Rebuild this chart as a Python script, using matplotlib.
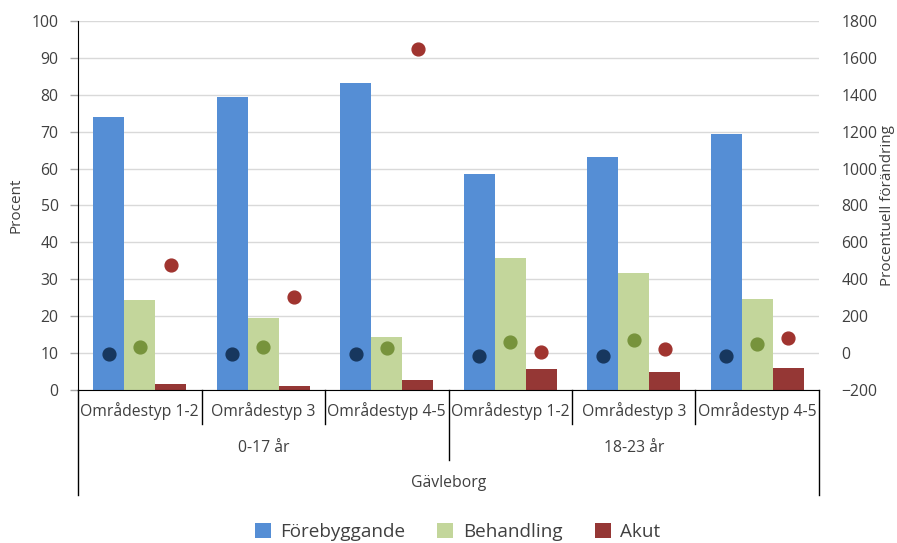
import numpy as np
import matplotlib.pyplot as plt

plt.rcParams['font.family'] = ['Open Sans', 'DejaVu Sans']

omraden = ['Områdestyp 1-2', 'Områdestyp 3', 'Områdestyp 4-5',
           'Områdestyp 1-2', 'Områdestyp 3', 'Områdestyp 4-5']
aldrar = ['0-17 år', '18-23 år']
region = 'Gävleborg'

# andel (procent), staplar
forebyggande = [74.1, 79.3, 83.1, 58.5, 63.2, 69.5]
behandling = [24.4, 19.5, 14.4, 35.8, 31.8, 24.7]
akut = [1.6, 1.1, 2.6, 5.6, 5.0, 5.9]

# procentuell förändring, punkter
forebyggande_pf = [-7, -7, -7, -17, -17, -16]
behandling_pf = [31, 31, 26, 60, 71, 48]
akut_pf = [477, 304, 1651, 6, 21, 80]

c_blue, c_green, c_red = '#558ED5', '#C3D69B', '#953735'
d_blue, d_green, d_red = '#17375E', '#77933C', '#A0342F'

fig = plt.figure(figsize=(8.97, 5.43), dpi=100)
ax = fig.add_axes([0.087, 0.2818, 0.826, 0.6795])
ax2 = ax.twinx()

x = np.arange(len(omraden))
w = 0.25
ax.bar(x - w, forebyggande, w, color=c_blue, label='Förebyggande', zorder=2)
ax.bar(x, behandling, w, color=c_green, label='Behandling', zorder=2)
ax.bar(x + w, akut, w, color=c_red, label='Akut', zorder=2)

ms = 85
ax2.scatter(x - w, forebyggande_pf, s=ms, color=d_blue, zorder=3)
ax2.scatter(x, behandling_pf, s=ms, color=d_green, zorder=3)
ax2.scatter(x + w, akut_pf, s=ms, color=d_red, zorder=3)

ax.set_xlim(-0.5, len(omraden) - 0.5)
ax.set_ylim(0, 100)
ax.set_yticks(range(0, 101, 10))
ax2.set_ylim(-200, 1800)
ax2.set_yticks(range(-200, 1801, 200))

ax.yaxis.grid(True, color='#D9D9D9', lw=1, zorder=0)
ax.set_axisbelow(True)
for a in (ax, ax2):
    for s in ('top', 'right'):
        a.spines[s].set_visible(False)
ax2.spines['left'].set_visible(False)
ax2.spines['bottom'].set_visible(False)
ax.spines['left'].set_color('black')
ax.spines['bottom'].set_color('black')

ax.tick_params(axis='y', length=6, width=1, color='#A6A6A6', labelsize=11.3,
               labelcolor='#404040', pad=8)
ax2.tick_params(axis='y', length=0, labelsize=11.3, labelcolor='#404040', pad=16)
ax.set_xticks([])

ax.set_ylabel('Procent', fontsize=11, color='#404040', labelpad=6)
ax2.set_ylabel('Procentuell förändring', fontsize=11, color='#404040', labelpad=2)

# kategoriaxel i flera nivåer
tr = ax.get_xaxis_transform()
for b in np.arange(-0.5, len(omraden)):
    if b in (-0.5, len(omraden) - 0.5):
        y_end = -0.285
    elif b == 2.5:
        y_end = -0.19
    else:
        y_end = -0.092
    ax.plot([b, b], [0, y_end], transform=tr, color='black', lw=1, clip_on=False)
for i, lab in enumerate(omraden):
    ax.text(i, -0.057, lab, transform=tr, ha='center', va='center',
            fontsize=11.3, color='#404040')
for j, lab in enumerate(aldrar):
    ax.text(1 + 3 * j, -0.157, lab, transform=tr, ha='center', va='center',
            fontsize=11.3, color='#404040')
ax.text(2.5, -0.252, region, transform=tr, ha='center', va='center',
        fontsize=11.3, color='#404040')

fig.legend(loc='center', bbox_to_anchor=(0.51, 0.02), ncol=3, frameon=False,
           fontsize=13.6, handlelength=0.85, handleheight=0.85, columnspacing=1.7,
           handletextpad=0.5, labelcolor='#404040')

fig.savefig('out.png', dpi=100)
